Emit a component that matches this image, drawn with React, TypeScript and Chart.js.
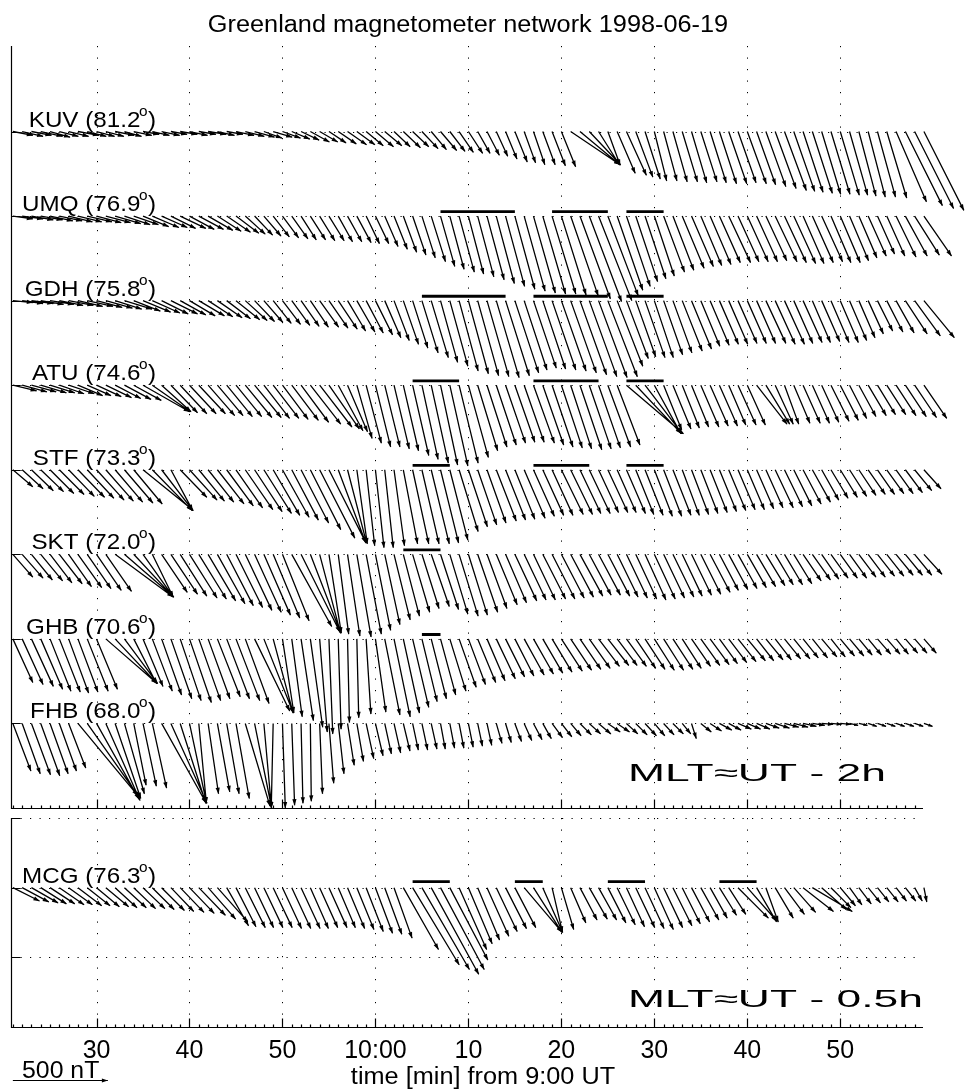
import React, { useEffect, useRef } from "react";
import { Chart, registerables } from "chart.js";
Chart.register(...registerables);

// ---------------- data ----------------
const TITLE = "Greenland magnetometer network 1998-06-19";
const X_AXIS_TITLE = "time [min] from 9:00 UT";
const T_START = 21; // first 1-min sample, minutes after 9:00 UT
const X_MIN = 20.8;
const X_MAX = 118.9;
const X_TICKS = [30, 40, 50, 60, 70, 80, 90, 100, 110];
const X_TICK_LABELS = ["30", "40", "50", "10:00", "10", "20", "30", "40", "50"];
const SCALE_NT = 500;

const STATIONS = ["KUV", "UMQ", "GDH", "ATU", "STF", "SKT", "GHB", "FHB"];
const LATITUDES = ["81.2", "76.9", "75.8", "74.6", "73.3", "72.0", "70.6", "68.0"];
const OFFSETS = [3560, 3115, 2670, 2225, 1780, 1335, 890, 445]; // nT offsets of the baselines
const MCG_NAME = "MCG";
const MCG_LAT = "76.3";

// east (E) and north (N) perturbations in nT, one per minute from 9:21 to 10:59
const KUV_E = [105,110,105,115,105,100,105,110,100,95, 95,100,90,95,85,90,95,85,90,95, 90,95,90,85,95,100,105,95,100,95, 95,95,100,95,90,95,100,95,90,95, 90,85,90,85,85,80,85,80,75,75, 65,65,60,60,65,60,60,65,70,75, 260,210,165,110,65,95,105,90,80,65, 70,75,80,80,85,85,90,95,95,100, 100,105,110,115,110,105,105,100,100,100, 95,90,90,95,105,160,195,205,210];
const KUV_N = [-20,-25,-20,-25,-30,-25,-25,-20,-25,-25, -25,-20,-25,-20,-15,-20,-20,-15,-15,-20, -15,-15,-20,-15,-20,-25,-30,-35,-30,-35, -40,-45,-55,-55,-60,-65,-70,-70,-75,-80, -75,-80,-85,-80,-90,-95,-100,-105,-110,-115, -115,-125,-130,-145,-160,-165,-175,-175,-180,-185, -175,-175,-175,-175,-178,-220,-230,-240,-250,-260, -260,-265,-265,-270,-265,-270,-275,-275,-270,-275, -280,-290,-300,-310,-315,-320,-325,-330,-330,-335, -335,-340,-345,-345,-350,-370,-390,-405,-415];

const UMQ_E = [105,110,115,115,120,120,125,125,130,130, 130,135,135,130,135,140,135,130,135,130, 130,130,125,125,120,105,95,90,85,85, 85,80,80,80,80,75,75,75,70,70, 70,70,70,70,70,75,75,75,80,80, 85,90,95,100,105,110,115,120,125,130, 145,160,170,175,160,135,125,115,110,105, 110,110,115,115,110,110,110,115,110,110, 110,110,115,115,115,110,110,110,105,105, 100,95,95,90,95,105,115,130,145];
const UMQ_N = [-15,-15,-20,-20,-25,-25,-30,-30,-30,-35, -35,-40,-45,-45,-55,-60,-60,-65,-65,-70, -70,-75,-80,-85,-90,-95,-100,-105,-110,-115, -120,-125,-125,-130,-130,-135,-135,-140,-145,-145, -160,-175,-190,-205,-220,-240,-265,-280,-295,-305, -320,-335,-355,-370,-385,-395,-405,-410,-410,-415, -420,-435,-450,-445,-420,-390,-370,-345,-330,-315, -295,-285,-275,-265,-260,-255,-245,-245,-240,-240, -240,-235,-240,-245,-250,-250,-245,-240,-245,-245, -235,-220,-210,-200,-210,-215,-210,-205,-210];

const GDH_E = [105,110,115,120,125,125,130,130,135,135, 140,140,145,140,145,145,140,140,135,135, 135,130,130,125,125,115,105,100,95,95, 95,95,95,100,100,100,95,95,90,90, 85,80,80,80,85,90,90,95,100,105, 110,115,120,125,125,120,120,120,125,130, 135,140,145,150,155,135,115,105,105,100, 100,100,105,105,100,100,100,100,100,100, 100,105,105,105,100,100,95,95,95,95, 90,85,80,80,85,95,115,135,160];
const GDH_N = [-10,-15,-15,-20,-20,-25,-25,-30,-30,-35, -40,-45,-45,-55,-60,-65,-70,-70,-75,-80, -80,-85,-90,-95,-100,-105,-110,-115,-120,-125, -130,-135,-140,-140,-145,-150,-160,-165,-170,-180, -195,-210,-230,-250,-275,-300,-325,-345,-370,-385, -395,-400,-405,-395,-380,-365,-355,-360,-365,-370, -380,-390,-400,-405,-400,-345,-305,-295,-300,-300, -285,-275,-265,-255,-240,-235,-230,-230,-225,-225, -225,-225,-230,-230,-225,-220,-220,-215,-220,-220, -210,-195,-175,-160,-165,-170,-175,-185,-195];

const ATU_E = [125,130,130,135,130,130,135,130,125,130, 135,135,140,145,245,200,155,140,140,140, 140,140,135,135,135,140,140,135,135,135, 140,145,160,170,160,130,105,80,80,80, 80,80,80,85,85,90,90,95,100,105, 105,105,105,105,105,105,110,110,110,110, 110,115,115,115,120,120,300,240,195,140, 95,95,90,90,95,95,95,90,95,95, 160,125,95,75,85,90,90,90,95,95, 90,90,95,95,100,105,110,115,120];
const ATU_N = [-30,-35,-35,-40,-40,-45,-45,-55,-55,-60, -65,-70,-75,-80,-140,-140,-140,-145,-150,-150, -150,-160,-160,-165,-165,-170,-170,-175,-175,-180, -185,-195,-205,-220,-230,-240,-245,-280,-305,-325, -325,-335,-345,-370,-390,-410,-420,-425,-410,-380, -345,-325,-315,-305,-300,-300,-305,-315,-325,-330, -335,-340,-335,-330,-325,-315,-255,-255,-255,-255, -235,-230,-225,-220,-220,-215,-215,-210,-210,-210, -205,-205,-205,-205,-200,-200,-200,-195,-190,-185, -175,-165,-160,-155,-155,-160,-165,-170,-175];

const STF_E = [105,110,115,120,125,130,135,140,140,145, 145,145,150,150,265,210,165,115,140,145, 135,135,140,140,140,145,145,145,140,140, 140,145,160,185,195,145,100,55,45,45, 45,55,75,85,90,95,95,95,100,100, 100,100,105,105,105,110,110,110,110,115, 115,110,110,105,105,100,100,95,95,95, 95,95,90,90,90,90,90,90,90,90, 90,90,95,95,95,95,95,90,90,90, 90,90,90,90,90,90,90,90,90];
const STF_N = [-90,-100,-110,-115,-125,-130,-140,-145,-150,-160, -165,-170,-175,-180,-215,-215,-215,-215,-145,-160, -165,-170,-180,-190,-200,-210,-220,-230,-240,-250, -265,-280,-315,-360,-385,-385,-385,-390,-400,-410, -410,-400,-390,-390,-390,-390,-385,-370,-325,-300, -290,-280,-270,-265,-260,-255,-245,-240,-240,-235, -235,-230,-230,-225,-225,-225,-230,-235,-240,-245, -245,-240,-240,-235,-230,-225,-220,-215,-210,-210, -205,-200,-200,-195,-190,-180,-170,-160,-150,-145, -140,-135,-130,-130,-125,-125,-120,-110,-100];

const SKT_E = [105,110,110,115,115,120,120,125,125,130, 135,305,260,210,160,110,135,140,140,145, 145,145,145,140,140,140,140,140,140,140, 210,205,160,110,65,55,65,75,80,80, 80,85,85,90,90,95,95,95,100,100, 105,105,110,110,115,115,115,120,120,120, 120,120,115,115,115,110,110,110,110,110, 110,110,105,105,105,105,100,100,100,100, 100,100,95,95,95,95,95,90,90,90, 90,90,90,90,90,90,90,90,95];
const SKT_N = [-120,-125,-135,-140,-150,-155,-170,-175,-180,-190, -195,-225,-225,-225,-225,-225,-200,-210,-220,-230, -235,-245,-260,-270,-280,-295,-305,-320,-335,-350, -380,-410,-415,-415,-415,-420,-430,-435,-420,-400, -370,-345,-325,-305,-285,-275,-290,-315,-325,-320, -305,-285,-265,-255,-245,-240,-240,-235,-235,-230, -225,-220,-215,-215,-220,-225,-230,-235,-240,-235, -230,-225,-220,-215,-210,-200,-190,-185,-180,-175, -170,-165,-160,-160,-155,-140,-135,-130,-125,-125, -125,-120,-120,-115,-115,-110,-110,-110,-105];

const GHB_E = [105,110,115,115,110,110,105,105,110,110, 270,220,175,120,105,105,105,110,110,115, 115,115,120,120,125,125,185,155,105,60, 55,65,65,40,20,15,10,10,25,55, 80,85,85,85,80,80,80,85,90,90, 95,95,100,100,100,105,105,105,105,110, 110,110,110,110,110,105,105,105,105,105, 105,105,100,100,100,100,95,95,95,95, 90,90,85,85,85,80,80,80,75,75, 75,70,70,70,70,65,65,65,65];
const GHB_N = [-230,-240,-250,-265,-275,-280,-285,-280,-275,-265, -235,-235,-235,-235,-250,-275,-295,-315,-325,-335, -325,-315,-305,-315,-325,-340,-380,-390,-390,-390, -410,-430,-465,-490,-500,-475,-440,-415,-395,-385, -400,-410,-390,-360,-330,-315,-295,-275,-255,-240, -230,-220,-210,-200,-195,-190,-185,-180,-175,-170, -165,-160,-155,-145,-140,-140,-145,-155,-160,-165, -165,-160,-155,-145,-140,-135,-130,-125,-120,-115, -115,-110,-110,-105,-105,-100,-100,-95,-95,-90, -90,-85,-85,-80,-80,-80,-75,-75,-75];

const FHB_E = [95,95,100,100,95,90,90,315,275,225, 180,135,105,65,70,75,235,190,135,90, 40,55,65,65,70,130,90,40,-10,15, 15,10,5,15,25,30,35,35,40,40, 35,35,35,30,30,30,25,25,25,25, 25,25,30,30,35,40,45,45,55,55, 55,60,60,65,65,65,60,60,60,55, 55,55,45,25,55,60,65,65,70,70, 70,70,75,75,75,70,65,60,55,55, 45,45,45,45,45,45,45,45,45];
const FHB_N = [-250,-265,-270,-275,-265,-250,-235,-380,-390,-400, -405,-395,-370,-325,-330,-340,-420,-420,-420,-420, -420,-370,-360,-370,-395,-435,-445,-445,-445,-445, -430,-420,-410,-370,-315,-265,-220,-200,-185,-170, -160,-155,-145,-140,-140,-135,-135,-130,-130,-125, -120,-115,-105,-100,-95,-90,-85,-80,-75,-70, -65,-60,-55,-55,-45,-45,-55,-60,-65,-65, -60,-55,-55,-80,-45,-40,-35,-35,-30,-30, -30,-25,-25,-20,-20,-15,-10,-5,-5,-5, -10,-10,-15,-15,-15,-15,-15,-15,-15];

const MCG_E = [140,140,140,135,130,130,125,125,120,120, 120,115,115,115,115,115,120,120,125,130, 140,145,160,115,105,105,100,100,100,100, 100,100,95,95,95,90,90,90,90,90, 90,95,185,245,250,250,230,200,145,125, 115,115,110,110,110,200,150,105,55,65, 80,90,95,95,95,95,95,100,100,100, 100,100,95,95,95,90,90,90,160,155, 105,65,95,105,115,160,210,130,105,80, 65,65,65,60,60,55,55,40,15];
const MCG_N = [-70,-75,-80,-85,-85,-90,-90,-95,-95,-100, -100,-105,-105,-110,-110,-115,-120,-125,-130,-135, -145,-165,-180,-200,-205,-210,-210,-210,-210,-215, -215,-215,-215,-210,-210,-210,-215,-220,-230,-240, -245,-265,-325,-405,-430,-455,-430,-380,-325,-295, -275,-255,-230,-215,-210,-235,-235,-235,-235,-220, -185,-170,-165,-170,-185,-195,-205,-210,-215,-220, -210,-200,-190,-180,-170,-160,-145,-140,-160,-175, -180,-180,-160,-140,-130,-125,-125,-115,-105,-95, -90,-85,-80,-75,-75,-70,-70,-70,-75];

const EAST = [KUV_E, UMQ_E, GDH_E, ATU_E, STF_E, SKT_E, GHB_E, FHB_E];
const NORTH = [KUV_N, UMQ_N, GDH_N, ATU_N, STF_N, SKT_N, GHB_N, FHB_N];

// marked intervals (minutes after 9:00)
const BAR_STATIONS = ["UMQ", "UMQ", "UMQ", "GDH", "GDH", "GDH", "ATU", "ATU", "ATU", "STF", "STF", "STF", "SKT", "GHB"];
const BAR_START = [67, 79, 87, 65, 77, 87, 64, 77, 87, 64, 77, 87, 63, 65];
const BAR_END = [75, 85, 91, 74, 85, 91, 69, 84, 91, 68, 83, 91, 67, 67];
const MCG_BAR_START = [64, 75, 85, 97];
const MCG_BAR_END = [68, 78, 89, 101];

// ---------------- layout ----------------
const W = 965;
const TOP_H = 812;
const BOT_H = 277;
const PAD_L = 11;
const PAD_R = 42;
const PLOT_W = W - PAD_L - PAD_R;
const TOP_PAD_T = 46;
const TOP_PAD_B = 4;
const TOP_Y_MIN = 0;
const TOP_Y_MAX = 4010;
const BOT_PAD_T = 6;
const BOT_PAD_B = 62;
const BOT_Y_MIN = -732;
const BOT_Y_MAX = 366;
const BOT_GRID = [366, 0, -366];
const TOP_PLOT_H = TOP_H - TOP_PAD_T - TOP_PAD_B;
const NT_TO_MIN = (TOP_PLOT_H / (TOP_Y_MAX - TOP_Y_MIN)) / (PLOT_W / (X_MAX - X_MIN));
const FONT = '"Liberation Sans", Arial, Helvetica, sans-serif';

function arrowData(E: number[], N: number[], base: number) {
  const pts: any[] = [];
  for (let i = 0; i < E.length; i++) {
    const t = T_START + i;
    pts.push({ x: t, y: base }, { x: t + E[i] * NT_TO_MIN, y: base + N[i] }, { x: t, y: null });
  }
  return pts;
}

function barData(starts: number[], ends: number[], ys: number[]) {
  const pts: any[] = [];
  for (let i = 0; i < starts.length; i++) {
    pts.push({ x: starts[i], y: ys[i] }, { x: ends[i], y: ys[i] }, { x: ends[i], y: null });
  }
  return pts;
}

function sText(ctx: CanvasRenderingContext2D, s: string, x: number, y: number, size: number, sx: number, align: CanvasTextAlign = "left") {
  ctx.save();
  ctx.font = `${size}px ${FONT}`;
  ctx.textAlign = align;
  ctx.textBaseline = "alphabetic";
  ctx.fillStyle = "#000";
  ctx.translate(x, y);
  ctx.scale(sx, 1);
  ctx.fillText(s, 0, 0);
  ctx.restore();
}

function stationLabel(ctx: CanvasRenderingContext2D, name: string, lat: string, xRight: number, yBase: number) {
  const main = `${name} (${lat}`;
  const sx = 1.1;
  ctx.save();
  ctx.font = `22px ${FONT}`;
  const w1 = ctx.measureText(main).width;
  const w3 = ctx.measureText(")").width;
  ctx.font = `14px ${FONT}`;
  const w2 = ctx.measureText("o").width;
  ctx.restore();
  let x = xRight - (w1 + w2 + w3) * sx;
  sText(ctx, main, x, yBase, 22, sx);
  x += w1 * sx;
  sText(ctx, "o", x - 1.5, yBase - 11, 14, sx);
  x += w2 * sx;
  sText(ctx, ")", x - 1, yBase, 22, sx);
}

function drawHeads(chart: any) {
  const ctx = chart.ctx;
  ctx.save();
  ctx.fillStyle = "#000";
  chart.data.datasets.forEach((ds: any, i: number) => {
    if (!ds.arrow) return;
    const pts = chart.getDatasetMeta(i).data;
    for (let j = 0; j + 1 < pts.length; j += 3) {
      const p0 = pts[j], p1 = pts[j + 1];
      const dx = p1.x - p0.x, dy = p1.y - p0.y;
      const len = Math.hypot(dx, dy);
      if (len < 1) continue;
      const c = dx / len, s = dy / len;
      const L = Math.min(6, len * 0.45), H = Math.min(2.1, L * 0.4);
      ctx.beginPath();
      ctx.moveTo(p1.x + c * 0.5, p1.y + s * 0.5);
      ctx.lineTo(p1.x - L * c + H * s, p1.y - L * s - H * c);
      ctx.lineTo(p1.x - L * c - H * s, p1.y - L * s + H * c);
      ctx.closePath();
      ctx.fill();
    }
  });
  ctx.restore();
}

function makeDecor(cfg: any) {
  return {
    id: "decor",
    beforeDatasetsDraw(chart: any) {
      const { ctx, chartArea: a } = chart;
      const xs = chart.scales.x, ys = chart.scales.y;
      ctx.save();
      ctx.strokeStyle = "#000";
      ctx.lineWidth = 1;
      ctx.setLineDash([1.2, 10.3]);
      ctx.beginPath();
      for (const t of X_TICKS) {
        const px = Math.round(xs.getPixelForValue(t)) + 0.5;
        ctx.moveTo(px, a.top);
        ctx.lineTo(px, a.bottom);
      }
      ctx.stroke();
      ctx.setLineDash([1.2, 8.3]);
      ctx.beginPath();
      for (const v of cfg.yGrid) {
        const py = Math.round(ys.getPixelForValue(v)) + 0.5;
        ctx.moveTo(a.left, py);
        ctx.lineTo(a.right, py);
      }
      ctx.stroke();
      ctx.setLineDash([]);
      const L = Math.round(a.left) + 0.5;
      const B = Math.round(a.bottom) + 0.5;
      ctx.lineWidth = 1.2;
      ctx.beginPath();
      ctx.moveTo(L, a.top);
      ctx.lineTo(L, B);
      ctx.lineTo(a.right, B);
      for (let t = Math.ceil(X_MIN); t <= X_MAX; t++) {
        const px = Math.round(xs.getPixelForValue(t)) + 0.5;
        const len = t % 10 === 0 ? 9 : 3;
        ctx.moveTo(px, B);
        ctx.lineTo(px, B - len);
      }
      for (const v of cfg.yGrid) {
        const py = Math.round(ys.getPixelForValue(v)) + 0.5;
        ctx.moveTo(L, py);
        ctx.lineTo(L + 9, py);
      }
      ctx.stroke();
      ctx.restore();
    },
    afterDatasetsDraw(chart: any) {
      const { ctx, chartArea: a } = chart;
      const xs = chart.scales.x, ys = chart.scales.y;
      drawHeads(chart);
      for (const st of cfg.labels) {
        stationLabel(ctx, st.name, st.lat, 157, ys.getPixelForValue(st.base) - 5);
      }
      sText(ctx, cfg.mlt, 628, cfg.mltY, 24, 1.85);
      if (cfg.top) {
        sText(ctx, TITLE, (a.left + a.right) / 2 + 1, 31.5, 23, 1.1, "center");
      } else {
        X_TICKS.forEach((t, i) => {
          sText(ctx, X_TICK_LABELS[i], xs.getPixelForValue(t), a.bottom + 31, 25, 1, "center");
        });
        sText(ctx, X_AXIS_TITLE, 483, a.bottom + 57, 23, 1.1, "center");
        // 500 nT scale arrow
        const x0 = xs.getPixelForValue(T_START);
        const x1 = xs.getPixelForValue(T_START + SCALE_NT * NT_TO_MIN);
        const yy = a.bottom + 53.5;
        sText(ctx, "500 nT", 22, a.bottom + 51, 23, 1.08);
        ctx.save();
        ctx.strokeStyle = "#000";
        ctx.fillStyle = "#000";
        ctx.lineWidth = 1.2;
        ctx.beginPath();
        ctx.moveTo(x0, yy);
        ctx.lineTo(x1, yy);
        ctx.stroke();
        ctx.beginPath();
        ctx.moveTo(x1, yy);
        ctx.lineTo(x1 - 6, yy - 2);
        ctx.lineTo(x1 - 6, yy + 2);
        ctx.closePath();
        ctx.fill();
        ctx.restore();
      }
    },
  };
}

function baseOptions(pad: any, yMin: number, yMax: number) {
  return {
    responsive: false,
    animation: false as const,
    devicePixelRatio: 1,
    events: [],
    layout: { padding: pad },
    plugins: { legend: { display: false }, tooltip: { enabled: false }, title: { display: false } },
    scales: {
      x: { type: "linear" as const, min: X_MIN, max: X_MAX, display: false },
      y: { type: "linear" as const, min: yMin, max: yMax, display: false },
    },
    elements: { point: { radius: 0, hoverRadius: 0 }, line: { tension: 0 } },
  };
}

function arrowDs(data: any[]) {
  return { data, showLine: true, borderColor: "#000", borderWidth: 1.3, pointRadius: 0, clip: false, spanGaps: false, arrow: true };
}
function barDs(data: any[]) {
  return { data, showLine: true, borderColor: "#000", borderWidth: 2.8, pointRadius: 0, clip: false, spanGaps: false, arrow: false };
}

export default function App() {
  const topRef = useRef<HTMLCanvasElement>(null);
  const botRef = useRef<HTMLCanvasElement>(null);

  useEffect(() => {
    const topSets: any[] = STATIONS.map((_, i) => arrowDs(arrowData(EAST[i], NORTH[i], OFFSETS[i])));
    const barY = BAR_STATIONS.map((s) => OFFSETS[STATIONS.indexOf(s)] + 23);
    topSets.push(barDs(barData(BAR_START, BAR_END, barY)));

    const c1 = new Chart(topRef.current as HTMLCanvasElement, {
      type: "scatter",
      data: { datasets: topSets },
      options: baseOptions({ left: PAD_L, right: PAD_R, top: TOP_PAD_T, bottom: TOP_PAD_B }, TOP_Y_MIN, TOP_Y_MAX) as any,
      plugins: [
        makeDecor({
          top: true,
          yGrid: OFFSETS,
          labels: STATIONS.map((n, i) => ({ name: n, lat: LATITUDES[i], base: OFFSETS[i] })),
          mlt: "MLT\u2248UT - 2h",
          mltY: 781,
        }),
      ],
    });

    const botSets: any[] = [arrowDs(arrowData(MCG_E, MCG_N, 0))];
    botSets.push(barDs(barData(MCG_BAR_START, MCG_BAR_END, MCG_BAR_START.map(() => 32))));
    const c2 = new Chart(botRef.current as HTMLCanvasElement, {
      type: "scatter",
      data: { datasets: botSets },
      options: baseOptions({ left: PAD_L, right: PAD_R, top: BOT_PAD_T, bottom: BOT_PAD_B }, BOT_Y_MIN, BOT_Y_MAX) as any,
      plugins: [
        makeDecor({
          top: false,
          yGrid: BOT_GRID,
          labels: [{ name: MCG_NAME, lat: MCG_LAT, base: 0 }],
          mlt: "MLT\u2248UT - 0.5h",
          mltY: 1006.5 - TOP_H,
        }),
      ],
    });
    return () => {
      c1.destroy();
      c2.destroy();
    };
  }, []);

  return (
    <div style={{ position: "absolute", left: 0, top: 0, width: W, height: TOP_H + BOT_H, background: "#fff" }}>
      <canvas ref={topRef} width={W} height={TOP_H} style={{ position: "absolute", left: 0, top: 0, width: W, height: TOP_H }} />
      <canvas ref={botRef} width={W} height={BOT_H} style={{ position: "absolute", left: 0, top: TOP_H, width: W, height: BOT_H }} />
    </div>
  );
}
